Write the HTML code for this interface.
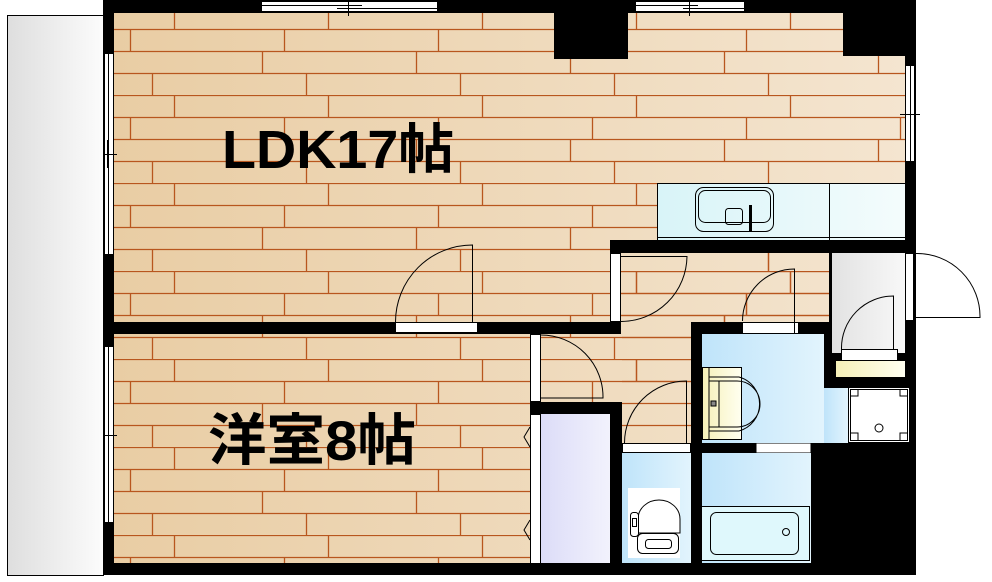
<!DOCTYPE html>
<html><head><meta charset="utf-8"><style>
html,body{margin:0;padding:0;background:#fff;width:992px;height:582px;overflow:hidden}
svg{display:block}
text{font-family:"Liberation Sans","Noto Sans CJK JP",sans-serif;font-weight:bold}
</style></head><body>
<svg width="992" height="582" viewBox="0 0 992 582" xmlns="http://www.w3.org/2000/svg">
<defs>
<linearGradient id="wood" gradientUnits="userSpaceOnUse" x1="114" x2="905" y1="0" y2="0">
<stop offset="0" stop-color="#e9cda4"/><stop offset="1" stop-color="#f4e5d0"/></linearGradient>
<linearGradient id="bal" x1="0" x2="1"><stop offset="0" stop-color="#dedede"/><stop offset="1" stop-color="#fcfcfc"/></linearGradient>
<linearGradient id="blue" x1="0" x2="1"><stop offset="0" stop-color="#bfe4fa"/><stop offset="1" stop-color="#e2f4fd"/></linearGradient>
<linearGradient id="gray" x1="0" x2="1"><stop offset="0" stop-color="#e2e2e2"/><stop offset="1" stop-color="#f8f8f8"/></linearGradient>
<linearGradient id="purp" x1="0" x2="1"><stop offset="0" stop-color="#dcdcf8"/><stop offset="1" stop-color="#f2f2fc"/></linearGradient>
<linearGradient id="yel" x1="0" x2="1"><stop offset="0" stop-color="#f6f0b8"/><stop offset="1" stop-color="#fffff0"/></linearGradient>
<linearGradient id="kit" x1="0" x2="1"><stop offset="0" stop-color="#d8f4f8"/><stop offset="1" stop-color="#f4fcfc"/></linearGradient>
<pattern id="boards" patternUnits="userSpaceOnUse" x="0" y="7" width="154" height="88">
<g stroke="#b8561e" stroke-width="1.3" fill="none">
<line x1="0" y1="0.5" x2="154" y2="0.5"/><line x1="0" y1="22.5" x2="154" y2="22.5"/>
<line x1="0" y1="44.5" x2="154" y2="44.5"/><line x1="0" y1="66.5" x2="154" y2="66.5"/>
<line x1="20.5" y1="0" x2="20.5" y2="22"/><line x1="130.5" y1="22" x2="130.5" y2="44"/>
<line x1="108.5" y1="44" x2="108.5" y2="66"/><line x1="152.5" y1="66" x2="152.5" y2="88"/>
</g></pattern>
</defs>
<rect x="7.5" y="15.5" width="96" height="560" fill="url(#bal)" stroke="#000"/>
<rect x="103" y="0" width="813" height="575" fill="#000"/>
<g>
<rect x="114" y="13" width="791" height="309" fill="url(#wood)"/>
<rect x="114" y="334" width="416" height="229" fill="url(#wood)"/>
<rect x="541" y="334" width="150" height="68" fill="url(#wood)"/>
<rect x="622" y="334" width="69" height="109" fill="url(#wood)"/>
<rect x="621" y="253" width="208" height="81" fill="url(#wood)"/>
<rect x="114" y="13" width="791" height="309" fill="url(#boards)"/>
<rect x="114" y="334" width="416" height="229" fill="url(#boards)"/>
<rect x="541" y="334" width="150" height="68" fill="url(#boards)"/>
<rect x="622" y="334" width="69" height="109" fill="url(#boards)"/>
<rect x="621" y="253" width="208" height="81" fill="url(#boards)"/>
</g>
<rect x="554" y="13" width="74" height="46" fill="#000"/>
<rect x="843" y="13" width="62" height="43" fill="#000"/>
<rect x="610" y="240" width="306" height="13" fill="#000"/>
<rect x="114" y="322" width="506" height="12" fill="#000"/>
<rect x="530" y="322" width="11" height="253" fill="#000"/>
<rect x="691" y="322" width="138" height="12" fill="#000"/>
<rect x="691" y="322" width="11" height="253" fill="#000"/>
<rect x="530" y="402" width="92" height="12" fill="#000"/>
<rect x="610" y="402" width="12" height="173" fill="#000"/>
<rect x="829" y="253" width="3" height="100" fill="#000"/>
<rect x="657.5" y="183.5" width="248" height="57" fill="url(#kit)" stroke="#000"/>
<line x1="829.5" y1="183" x2="829.5" y2="240" stroke="#000"/>
<line x1="657" y1="237.5" x2="905" y2="237.5" stroke="#000"/>
<rect x="695.5" y="187.5" width="78" height="44" rx="8" fill="none" stroke="#000"/>
<rect x="698.5" y="190.5" width="72" height="32" rx="7" fill="none" stroke="#000"/>
<rect x="725.5" y="208.5" width="17" height="16" rx="3" fill="none" stroke="#000"/>
<rect x="749" y="205" width="3" height="26" fill="#000"/>
<rect x="832" y="253" width="73" height="100" fill="url(#gray)"/>
<rect x="824" y="353" width="92" height="35" fill="#000"/>
<rect x="841.5" y="349.5" width="56" height="11" fill="#fff" stroke="#000"/>
<rect x="836" y="361" width="69" height="16" fill="url(#yel)"/>
<rect x="702" y="334" width="122" height="109" fill="url(#blue)"/>
<rect x="824" y="388" width="24" height="55" fill="url(#blue)"/>
<rect x="848.5" y="387.5" width="61" height="55" fill="#fff" stroke="#000"/>
<rect x="850.5" y="389.5" width="57" height="51" fill="none" stroke="#000"/>
<path d="M851 396h7v-6M900 390v6h7M851 433h7v7M900 440v-7h7" fill="none" stroke="#000"/>
<circle cx="879" cy="428" r="4" fill="none" stroke="#000"/>
<rect x="702.5" y="367.5" width="39" height="72" fill="url(#yel)" stroke="#000"/>
<path d="M709 368v71M709 377h30a28 28 0 0 1 0 54h-30M709 381h28a23 23 0 0 1 0 46h-28" fill="none" stroke="#000"/>
<path d="M719 381v46" stroke="#000"/>
<rect x="711" y="401" width="5" height="5" fill="#888" stroke="#000"/>
<rect x="691" y="443" width="225" height="10" fill="#000"/>
<rect x="756.5" y="443.5" width="54" height="9" fill="#fff"/>
<rect x="811" y="443" width="105" height="132" fill="#000"/>
<path d="M799 453l6 28l6-28" fill="#fff" stroke="#000"/>
<rect x="702" y="453" width="109" height="110" fill="url(#blue)"/>
<rect x="701.5" y="506.5" width="108" height="54" fill="#dff8fc" stroke="#000"/>
<rect x="710.5" y="512.5" width="88" height="42" rx="6" fill="none" stroke="#000"/>
<circle cx="786" cy="532" r="3.5" fill="none" stroke="#000"/>
<rect x="622" y="443" width="69" height="10" fill="#000"/>
<rect x="622.5" y="443.5" width="68" height="9" fill="#fff" stroke="#000"/>
<rect x="622" y="453" width="69" height="110" fill="url(#blue)"/>
<rect x="628" y="488" width="52" height="70" fill="#fff"/>
<path d="M638 533v-14a21 19 0 0 1 42 0v14z" fill="#fff" stroke="#000"/>
<rect x="637.5" y="533.5" width="41" height="20" rx="5" fill="#fff" stroke="#000"/>
<rect x="645.5" y="539.5" width="26" height="9" rx="3" fill="none" stroke="#000"/>
<rect x="630.5" y="512.5" width="8" height="24" rx="3" fill="#fff" stroke="#000"/>
<rect x="632.5" y="518.5" width="4" height="8" fill="none" stroke="#000"/>
<rect x="541" y="414" width="69" height="149" fill="url(#purp)"/>
<rect x="530.5" y="414.5" width="10" height="149" fill="#fff" stroke="#000"/>
<path d="M530 427l-6 10l6 10M530 520l-6 10l6 10" fill="none" stroke="#000"/>
<rect x="395.5" y="322.5" width="82" height="10" fill="#fff" stroke="#000"/>
<rect x="530.5" y="334.5" width="10" height="67" fill="#fff" stroke="#000"/>
<rect x="610.5" y="253.5" width="10" height="68" fill="#fff" stroke="#000"/>
<rect x="742.5" y="322.5" width="56" height="11" fill="#fff" stroke="#000"/>
<rect x="905.5" y="253.5" width="8" height="67" fill="#fff" stroke="#000"/>
<rect x="261.5" y="1.5" width="176" height="10" fill="#fff" stroke="#000"/>
<line x1="261" y1="5.5" x2="362" y2="5.5" stroke="#000"/><line x1="337" y1="8.5" x2="437" y2="8.5" stroke="#000"/>
<line x1="348.5" y1="0" x2="348.5" y2="16" stroke="#000"/>
<rect x="635.5" y="1.5" width="109" height="10" fill="#fff" stroke="#000"/>
<line x1="635" y1="5.5" x2="698" y2="5.5" stroke="#000"/><line x1="683" y1="8.5" x2="744" y2="8.5" stroke="#000"/>
<line x1="689.5" y1="0" x2="689.5" y2="16" stroke="#000"/>
<rect x="104.5" y="53.5" width="9" height="201" fill="#fff" stroke="#000"/>
<line x1="108.5" y1="53" x2="108.5" y2="254" stroke="#000"/>
<line x1="104" y1="154.5" x2="117" y2="154.5" stroke="#000"/><line x1="107.5" y1="140" x2="107.5" y2="168" stroke="#000"/>
<rect x="104.5" y="346.5" width="9" height="176" fill="#fff" stroke="#000"/>
<line x1="108.5" y1="346" x2="108.5" y2="522" stroke="#000"/>
<line x1="104" y1="435.5" x2="117" y2="435.5" stroke="#000"/>
<rect x="905.5" y="65.5" width="9" height="96" fill="#fff" stroke="#000"/>
<line x1="910.5" y1="65" x2="910.5" y2="161" stroke="#000"/>
<line x1="900" y1="114.5" x2="920" y2="114.5" stroke="#000"/>
<g fill="none" stroke="#000" stroke-width="1">
<path d="M472.5 322V245a77 77 0 0 0 -77 77"/>
<path d="M621 256.5h66a66 66 0 0 1 -66 65"/>
<path d="M794.5 333v-64a52 52 0 0 0 -52 52"/>
<path d="M541 335a62 62 0 0 1 62 63h-62"/>
<path d="M686.5 443v-62a62 62 0 0 0 -62 62"/>
<path d="M893.5 349v-53a52 52 0 0 0 -52 53"/>
<path d="M916 253.5a63 63 0 0 1 64 64h-64"/>
</g>
<text x="222" y="168" font-size="54" fill="#000" textLength="232" lengthAdjust="spacingAndGlyphs">LDK17帖</text>
<text x="208" y="460" font-size="56" fill="#000" textLength="208" lengthAdjust="spacingAndGlyphs">洋室8帖</text>
</svg>
</body></html>
